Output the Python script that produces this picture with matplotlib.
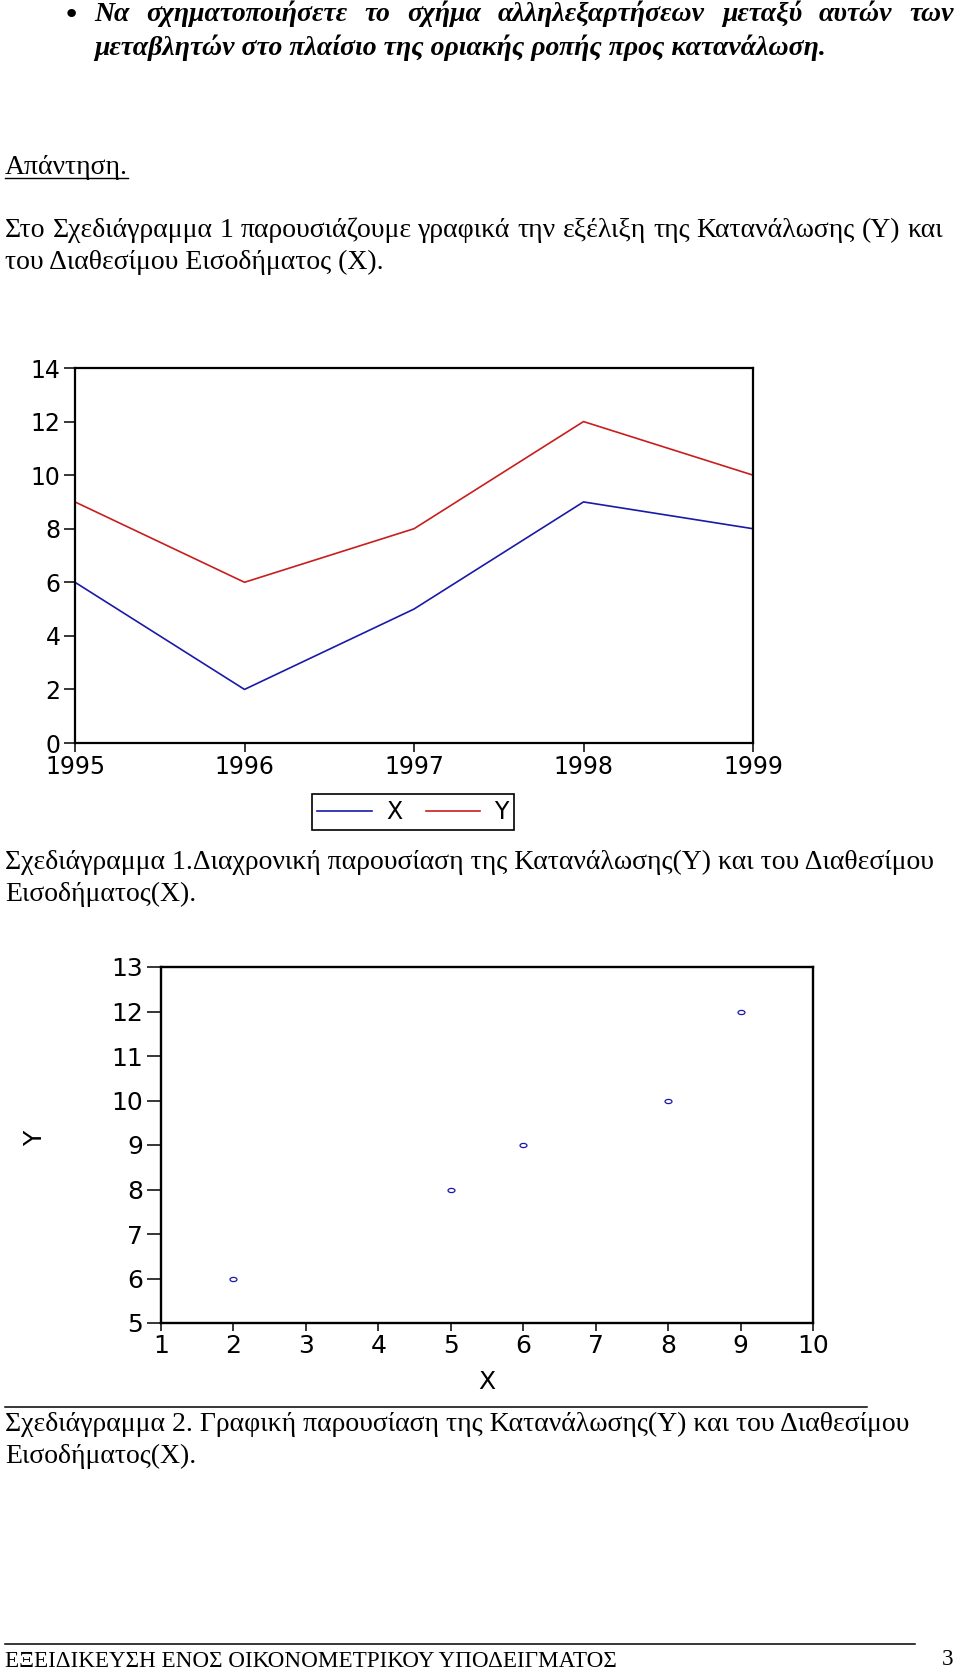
import matplotlib
matplotlib.use('Agg')
import matplotlib.pyplot as plt
from matplotlib.lines import Line2D
from matplotlib.path import Path
from matplotlib.transforms import Affine2D

# data
years = [1995, 1996, 1997, 1998, 1999]
x_income = [6, 2, 5, 9, 8]
y_cons = [9, 6, 8, 12, 10]
ticks1_y = [0, 2, 4, 6, 8, 10, 12, 14]
ticks2_x = [1, 2, 3, 4, 5, 6, 7, 8, 9, 10]
ticks2_y = [5, 6, 7, 8, 9, 10, 11, 12, 13]

W, H = 960, 1673
BLUE = '#1a1aa8'
RED = '#c81e1e'
SERIF = 'Liberation Serif'
SANS = 'DejaVu Sans'


def fx(px):
    return px / W


def fy(py):
    return 1 - py / H


def put_text(fig, px, py, s, **kw):
    return fig.text(fx(px), fy(py), s, va='baseline', ha='left', **kw)


def put_justified(fig, x0, x1, py, line, **kw):
    words = line.split()
    texts = [put_text(fig, 0, py, w, **kw) for w in words]
    r = fig.canvas.get_renderer()
    widths = [t.get_window_extent(r).width for t in texts]
    gap = (x1 - x0 - sum(widths)) / (len(words) - 1)
    x = x0
    for t, w in zip(texts, widths):
        t.set_x(fx(x))
        x += w + gap


def hrule(fig, x0, x1, py, lw=1.1):
    fig.add_artist(Line2D([fx(x0), fx(x1)], [fy(py), fy(py)],
                          transform=fig.transFigure, color='black', lw=lw))


def style_axes(ax, lw, size):
    for s in ax.spines.values():
        s.set_linewidth(lw)
        s.set_color('black')
    ax.tick_params(labelsize=size, width=1.1, colors='black')
    for lab in ax.get_xticklabels() + ax.get_yticklabels():
        lab.set_family(SANS)


def main():
    fig = plt.figure(figsize=(W / 100, H / 100), dpi=100)

    ''' page text '''
    bi = dict(family=SERIF, fontsize=20, fontweight='bold', style='italic')
    fig.text(fx(71), fy(15), '\u2022', fontsize=21, va='center', ha='center')
    put_justified(fig, 94, 954, 21,
                  'Να σχηματοποιήσετε το σχήμα αλληλεξαρτήσεων μεταξύ αυτών των', **bi)
    put_text(fig, 94, 55, 'μεταβλητών στο πλαίσιο της οριακής ροπής προς κατανάλωση.', **bi)

    rg = dict(family=SERIF, fontsize=20)
    t = put_text(fig, 5, 174, 'Απάντηση.', **rg)
    r = fig.canvas.get_renderer()
    ext = t.get_window_extent(r)
    hrule(fig, 5, 5 + ext.width, 178, lw=1.0)

    put_justified(fig, 5, 943, 237,
                  'Στο Σχεδιάγραμμα 1 παρουσιάζουμε γραφικά την εξέλιξη της Κατανάλωσης (Y) και', **rg)
    put_text(fig, 5, 269, 'του Διαθεσίμου Εισοδήματος (X).', **rg)

    put_text(fig, 5, 869, 'Σχεδιάγραμμα 1.Διαχρονική παρουσίαση της Κατανάλωσης(Y) και του Διαθεσίμου', **rg)
    put_text(fig, 5, 901, 'Εισοδήματος(X).', **rg)

    hrule(fig, 5, 867, 1407)
    put_text(fig, 5, 1431, 'Σχεδιάγραμμα 2. Γραφική παρουσίαση της Κατανάλωσης(Y) και του Διαθεσίμου', **rg)
    put_text(fig, 5, 1463, 'Εισοδήματος(X).', **rg)

    hrule(fig, 5, 915, 1644)
    put_text(fig, 5, 1667, 'ΕΞΕΙΔΙΚΕΥΣΗ ΕΝΟΣ ΟΙΚΟΝΟΜΕΤΡΙΚΟΥ ΥΠΟΔΕΙΓΜΑΤΟΣ', family=SERIF, fontsize=16.7)
    fig.text(fx(953), fy(1665), '3', family=SERIF, fontsize=16.7, ha='right', va='baseline')

    ''' chart 1: time series '''
    ax1 = fig.add_axes([fx(75), fy(743), (753 - 75) / W, (743 - 368) / H])
    ax1.plot(years, x_income, color=BLUE, lw=1.2, label='X')
    ax1.plot(years, y_cons, color=RED, lw=1.2, label='Y')
    ax1.set_xlim(years[0], years[-1])
    ax1.set_ylim(0, 14)
    ax1.set_xticks(years)
    ax1.set_yticks(ticks1_y)
    style_axes(ax1, 1.6, 17)
    ax1.tick_params(axis='x', length=6.5, pad=1.8)
    ax1.tick_params(axis='y', length=8, pad=2.5)
    leg = ax1.legend(loc='center', bbox_to_anchor=(fx(413), fy(812)),
                     bbox_transform=fig.transFigure, ncol=2, frameon=True,
                     fancybox=False, edgecolor='black', framealpha=1,
                     prop={'family': SANS, 'size': 17}, handlelength=2.3,
                     handletextpad=0.6, columnspacing=1.0, borderpad=0.25)
    leg.get_frame().set_linewidth(1.2)

    ''' chart 2: scatter '''
    ax2 = fig.add_axes([fx(161), fy(1323), (813 - 161) / W, (1323 - 967) / H])
    oval = Path.unit_circle().transformed(Affine2D().scale(1.0, 0.6))
    ax2.plot(x_income, y_cons, linestyle='none', marker=oval, markersize=5,
             markerfacecolor='none', markeredgecolor=BLUE, markeredgewidth=0.9)
    ax2.set_xlim(ticks2_x[0], ticks2_x[-1])
    ax2.set_ylim(ticks2_y[0], ticks2_y[-1])
    ax2.set_xticks(ticks2_x)
    ax2.set_yticks(ticks2_y)
    style_axes(ax2, 1.7, 18)
    ax2.tick_params(axis='x', length=6, pad=2.2)
    ax2.tick_params(axis='y', length=10, pad=3)
    ax2.set_xlabel('X', family=SANS, fontsize=18, va='center', ha='center')
    ax2.set_ylabel('Y', family=SANS, fontsize=18, va='center', ha='center')
    ax2.xaxis.set_label_coords((487 - 161) / 652, (1323 - 1382) / 356)
    ax2.yaxis.set_label_coords((35 - 161) / 652, (1323 - 1138) / 356)

    plt.savefig('out.png', dpi=100)


if __name__ == '__main__':
    main()
